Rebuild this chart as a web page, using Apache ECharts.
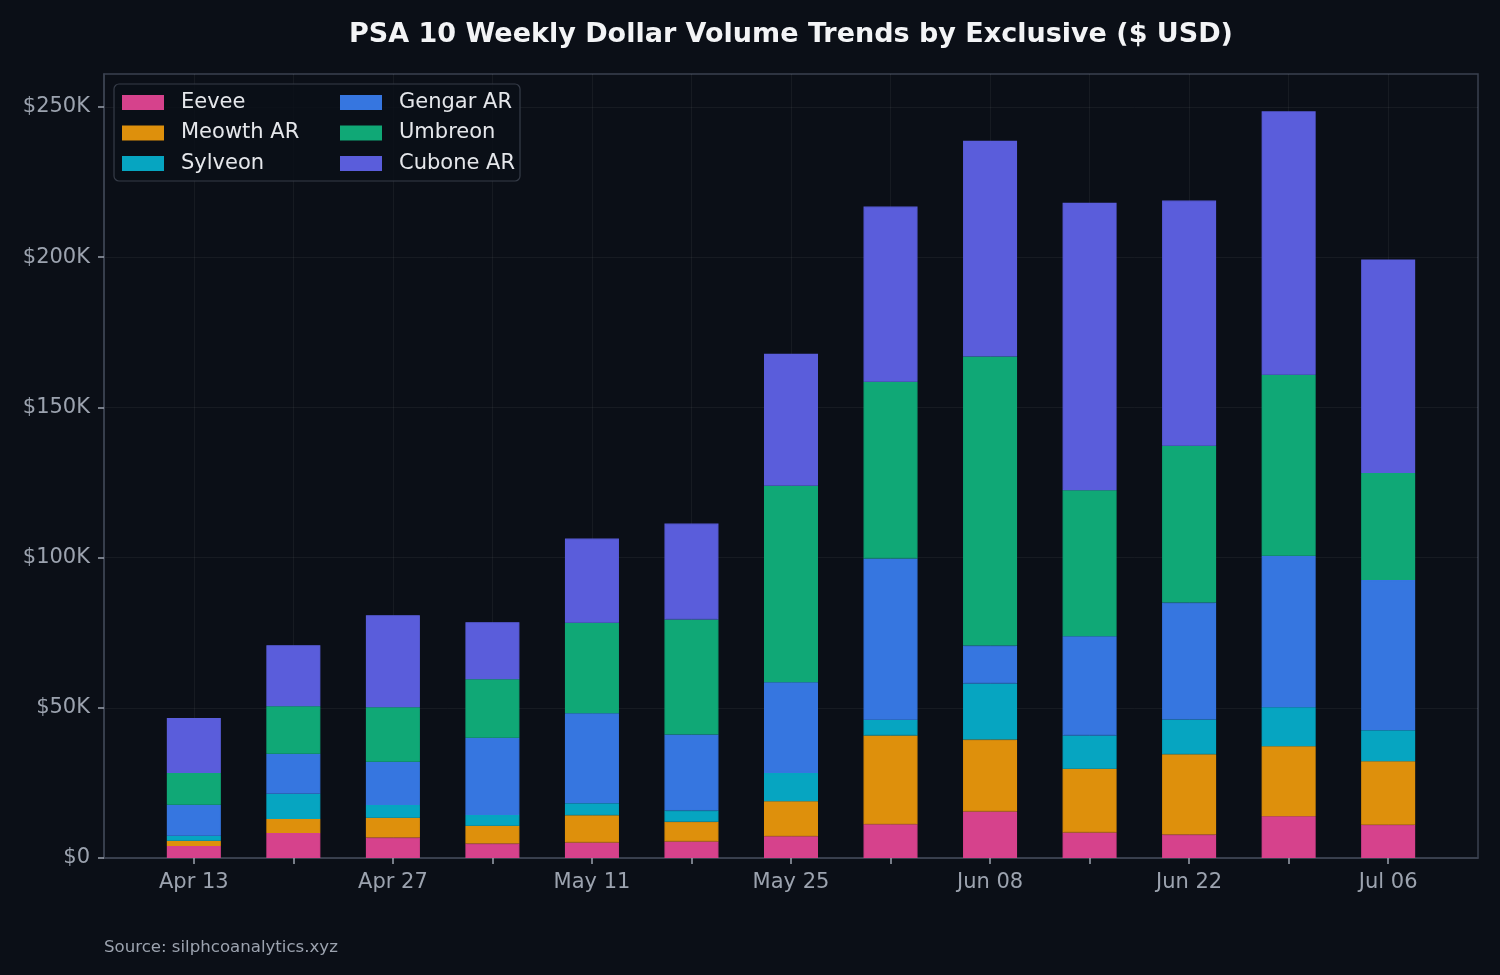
<!DOCTYPE html>
<html>
<head>
<meta charset="utf-8">
<style>
  html, body { margin: 0; padding: 0; background: #0b0f17; }
  #chart { width: 1500px; height: 975px; }
</style>
<script src="https://cdn.jsdelivr.net/npm/echarts@6/dist/echarts.min.js"></script>
</head>
<body>
<div id="chart"></div>
<script>
// weekly buckets (week starting)
const weeks = ['Apr 13', 'Apr 20', 'Apr 27', 'May 04', 'May 11', 'May 18', 'May 25',
  'Jun 01', 'Jun 08', 'Jun 15', 'Jun 22', 'Jun 29', 'Jul 06']

// dollar volume per exclusive, USD
const eevee = [4000, 8300, 6800, 4800, 5200, 5500, 7200, 11200, 15500, 8500, 7800, 13900, 11100]
const meowthAR = [1700, 4700, 6600, 5900, 9000, 6600, 11700, 29600, 23900, 21200, 26700, 23300, 21100]
const sylveon = [1700, 8400, 4200, 3600, 4000, 3700, 9400, 5200, 18700, 11100, 11600, 13000, 10300]
const gengarAR = [10300, 13300, 14400, 25700, 30000, 25300, 30200, 53700, 12600, 33000, 38900, 50400, 50000]
const umbreon = [10600, 15800, 18200, 19500, 30100, 38300, 65400, 58800, 96200, 48600, 52200, 60200, 35600]
const cuboneAR = [18300, 20300, 30600, 19000, 28000, 31900, 43900, 58300, 71800, 95700, 81600, 87700, 71100]

const seriesNames = ['Eevee', 'Meowth AR', 'Sylveon', 'Gengar AR', 'Umbreon', 'Cubone AR']
const seriesValues = [eevee, meowthAR, sylveon, gengarAR, umbreon, cuboneAR]
// tailwind 500 shades at 90% over the dark background
const colors = ['#d6428c', '#de900c', '#06a5c1', '#3676e0', '#10a876', '#5a5ddb']

const yTicks = [0, 50000, 100000, 150000, 200000, 250000]

const chart = echarts.init(document.getElementById('chart'), null, { renderer: 'canvas' })

const muted = '#9ca3af'
const frame = '#3b4250'
const font = 'DejaVu Sans'

// plot box
const W = 1500
const plotLeft = 104
const plotRight = 1478
const plotTop = 74
const plotBottom = 858

// matplotlib-style 5% margins around the bars (in category units)
const barHalf = 0.275
const span = weeks.length - 1 + 2 * barHalf
const xMin = -barHalf - span * 0.05
const xMax = weeks.length - 1 + barHalf + span * 0.05
const pxPerUnit = (plotRight - plotLeft) / (xMax - xMin)
const totals = weeks.map((_, i) => seriesValues.reduce((s, arr) => s + arr[i], 0))
const yMax = Math.max(...totals) * 1.05

// inner grid holding the category bands so week i sits at unit i of the frame axis
const bandLeft = plotLeft + (-0.5 - xMin) * pxPerUnit
const bandWidth = weeks.length * pxPerUnit

const idx = weeks.map((_, i) => i)

const legendBase = {
  orient: 'vertical',
  top: 87,
  itemWidth: 42,
  itemHeight: 15,
  itemGap: 9.5,
  icon: 'rect',
  selectedMode: false,
  z: 20,
  itemStyle: { borderWidth: 0 },
  textStyle: { color: '#e5e7eb', fontSize: 21, fontFamily: font, padding: [0, 0, 0, 12] },
}

const option = {
  backgroundColor: '#0b0f17',
  animation: false,
  grid: [
    {
      left: plotLeft, right: W - plotRight, top: plotTop, bottom: 975 - plotBottom,
      show: true, borderColor: frame, borderWidth: 1.5,
    },
    {
      left: bandLeft, width: bandWidth, top: plotTop, bottom: 975 - plotBottom,
    },
  ],
  legend: [
    { ...legendBase, left: 117, data: seriesNames.slice(0, 3) },
    { ...legendBase, left: 335, data: seriesNames.slice(3) },
  ],
  xAxis: [
    {
      gridIndex: 0,
      type: 'value',
      min: xMin,
      max: xMax,
      axisLine: { show: true, onZero: false, lineStyle: { color: frame, width: 1.5 } },
      axisTick: { show: true, customValues: idx, length: 6, lineStyle: { color: muted, width: 1.5 } },
      axisLabel: {
        customValues: idx.filter((i) => i % 2 === 0),
        formatter: (v) => weeks[v],
        color: muted, fontSize: 21, fontFamily: font, margin: 14,
      },
      splitLine: { show: true, lineStyle: { color: 'rgba(255,255,255,0.05)', width: 1 } },
    },
    {
      gridIndex: 1,
      type: 'category',
      data: weeks,
      show: false,
    },
  ],
  yAxis: [
    {
      gridIndex: 0,
      type: 'value',
      min: 0,
      max: yMax,
      axisLine: { show: true, onZero: false, lineStyle: { color: frame, width: 1.5 } },
      axisTick: { show: true, customValues: yTicks, length: 6, lineStyle: { color: muted, width: 1.5 } },
      axisLabel: {
        customValues: yTicks,
        formatter: (v) => (v === 0 ? '$0' : '$' + v / 1000 + 'K'),
        color: muted, fontSize: 21, fontFamily: font, margin: 14,
        padding: [4, 0, 0, 0],
      },
      splitLine: { show: true, lineStyle: { color: 'rgba(255,255,255,0.05)', width: 1 } },
    },
    {
      gridIndex: 1,
      type: 'value',
      min: 0,
      max: yMax,
      show: false,
      splitLine: { show: false },
    },
  ],
  graphic: [
    {
      type: 'text', x: 791, y: 35, z: 10,
      style: {
        text: 'PSA 10 Weekly Dollar Volume Trends by Exclusive ($ USD)',
        fill: '#f3f4f6', font: 'bold 27px "DejaVu Sans"',
        textAlign: 'center', textVerticalAlign: 'middle',
      },
    },
    {
      type: 'text', x: 104, y: 948, z: 10,
      style: {
        text: 'Source: silphcoanalytics.xyz',
        fill: muted, font: '16.6px "DejaVu Sans"',
        textAlign: 'left', textVerticalAlign: 'middle',
      },
    },
    {
      type: 'rect', z: 1,
      shape: { x: 114, y: 84, width: 406, height: 97, r: 5 },
      style: { fill: 'rgba(11,15,23,0.85)', stroke: '#363c48', lineWidth: 1.2 },
    },
  ],
  series: seriesNames.map((name, k) => ({
    name,
    type: 'bar',
    stack: 'total',
    xAxisIndex: 1,
    yAxisIndex: 1,
    barWidth: 54,
    // stroke in the fill colour hides the antialiasing seams between stacked segments
    itemStyle: { color: colors[k], borderColor: colors[k], borderWidth: 1.2 },
    emphasis: { disabled: true },
    data: seriesValues[k],
  })),
}

chart.setOption(option)
</script>
</body>
</html>
